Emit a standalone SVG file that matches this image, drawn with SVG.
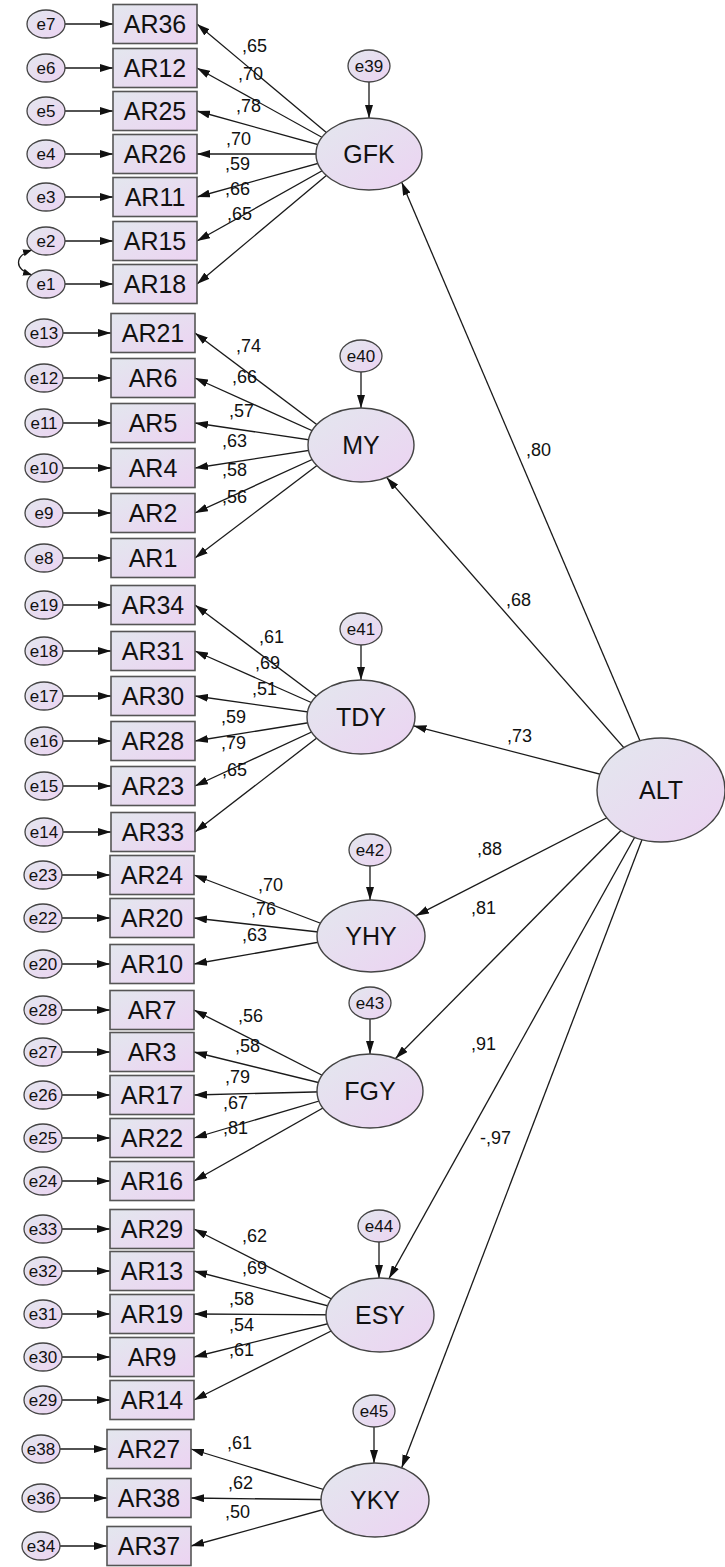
<svg xmlns="http://www.w3.org/2000/svg" width="725" height="1567" viewBox="0 0 725 1567">
<defs>
<linearGradient id="fill" x1="0" y1="0" x2="1" y2="1">
<stop offset="0" stop-color="#e3e7ee"/>
<stop offset="1" stop-color="#ecd3f2"/>
</linearGradient>
<marker id="ah" viewBox="0 0 13 8" markerWidth="13" markerHeight="8" refX="13" refY="4" orient="auto-start-reverse" markerUnits="userSpaceOnUse">
<path d="M0,0 L13,4 L0,8 z" fill="#111"/>
</marker>
<marker id="ahs" viewBox="0 0 9 7" markerWidth="9" markerHeight="7" refX="9" refY="3.5" orient="auto-start-reverse" markerUnits="userSpaceOnUse">
<path d="M0,0 L9,3.5 L0,7 z" fill="#111"/>
</marker>
</defs>
<style>
.obs{fill:url(#fill);stroke:#555;stroke-width:1.6}
.lat{fill:url(#fill);stroke:#444;stroke-width:1.4}
.err{fill:url(#fill);stroke:#444;stroke-width:1.3}
.t{font-family:"Liberation Sans",Arial,sans-serif;fill:#111;text-anchor:middle}
.big{font-size:25px}
.small{font-size:17px}
.lbl{font-family:"Liberation Sans",Arial,sans-serif;font-size:18px;fill:#111}
.c{fill:none;stroke:#1a1a1a;stroke-width:1.3;marker-end:url(#ah)}
</style>

<g id="connectors">
<!-- GFK loadings -->
<path class="c" d="M352,154 L197,24"/>
<path class="c" d="M352,154 L197,68"/>
<path class="c" d="M352,154 L197,111"/>
<path class="c" d="M352,154 L197,154"/>
<path class="c" d="M352,154 L197,197"/>
<path class="c" d="M352,154 L197,241"/>
<path class="c" d="M352,154 L197,284"/>
<!-- MY loadings -->
<path class="c" d="M344,445 L195,333"/>
<path class="c" d="M344,445 L195,378"/>
<path class="c" d="M344,445 L195,423"/>
<path class="c" d="M344,445 L195,468"/>
<path class="c" d="M344,445 L195,513"/>
<path class="c" d="M344,445 L195,558"/>
<!-- TDY loadings -->
<path class="c" d="M344,717 L195,605"/>
<path class="c" d="M344,717 L195,651"/>
<path class="c" d="M344,717 L195,696"/>
<path class="c" d="M344,717 L195,741"/>
<path class="c" d="M344,717 L195,786"/>
<path class="c" d="M344,717 L195,832"/>
<!-- YHY loadings -->
<path class="c" d="M354,936 L194,875"/>
<path class="c" d="M354,936 L194,918"/>
<path class="c" d="M354,936 L194,964"/>
<!-- FGY loadings -->
<path class="c" d="M353,1091 L194,1010"/>
<path class="c" d="M353,1091 L194,1052"/>
<path class="c" d="M353,1091 L194,1095"/>
<path class="c" d="M353,1091 L194,1138"/>
<path class="c" d="M353,1091 L194,1181"/>
<!-- ESY loadings -->
<path class="c" d="M363,1315 L194,1229"/>
<path class="c" d="M363,1315 L194,1271"/>
<path class="c" d="M363,1315 L194,1314"/>
<path class="c" d="M363,1315 L194,1357"/>
<path class="c" d="M363,1315 L194,1400"/>
<!-- YKY loadings -->
<path class="c" d="M358,1500 L191,1449"/>
<path class="c" d="M358,1500 L191,1498"/>
<path class="c" d="M358,1500 L191,1546"/>
<!-- ALT paths -->
<path class="c" d="M661,790 L401.7,182.2"/>
<path class="c" d="M661,790 L386.6,477.4"/>
<path class="c" d="M661,790 L413.5,725.8"/>
<path class="c" d="M661,790 L416,915.7"/>
<path class="c" d="M661,790 L395.5,1058.5"/>
<path class="c" d="M661,790 L389,1278.5"/>
<path class="c" d="M661,790 L401.7,1467.8"/>
<!-- latent error arrows -->
<path class="c" d="M369,82 L369,118"/>
<path class="c" d="M361,372 L361,408"/>
<path class="c" d="M361,645 L361,680"/>
<path class="c" d="M370,866 L370,900"/>
<path class="c" d="M370,1019 L370,1054"/>
<path class="c" d="M379,1242 L379,1278"/>
<path class="c" d="M374,1427 L374,1463"/>
<!-- error to indicator arrows -->
<path class="c" d="M65,24 L113,24"/>
<path class="c" d="M65,68 L113,68"/>
<path class="c" d="M65,111 L113,111"/>
<path class="c" d="M65,154 L113,154"/>
<path class="c" d="M65,197 L113,197"/>
<path class="c" d="M65,241 L113,241"/>
<path class="c" d="M65,284 L113,284"/>
<path class="c" d="M63,333 L111,333"/>
<path class="c" d="M63,378 L111,378"/>
<path class="c" d="M63,423 L111,423"/>
<path class="c" d="M63,468 L111,468"/>
<path class="c" d="M63,513 L111,513"/>
<path class="c" d="M63,558 L111,558"/>
<path class="c" d="M63,605 L111,605"/>
<path class="c" d="M63,651 L111,651"/>
<path class="c" d="M63,696 L111,696"/>
<path class="c" d="M63,741 L111,741"/>
<path class="c" d="M63,786 L111,786"/>
<path class="c" d="M63,832 L111,832"/>
<path class="c" d="M62,875 L110,875"/>
<path class="c" d="M62,918 L110,918"/>
<path class="c" d="M62,964 L110,964"/>
<path class="c" d="M62,1010 L110,1010"/>
<path class="c" d="M62,1052 L110,1052"/>
<path class="c" d="M62,1095 L110,1095"/>
<path class="c" d="M62,1138 L110,1138"/>
<path class="c" d="M62,1181 L110,1181"/>
<path class="c" d="M62,1229 L110,1229"/>
<path class="c" d="M62,1271 L110,1271"/>
<path class="c" d="M62,1314 L110,1314"/>
<path class="c" d="M62,1357 L110,1357"/>
<path class="c" d="M62,1400 L110,1400"/>
<path class="c" d="M60,1449 L107,1449"/>
<path class="c" d="M60,1498 L107,1498"/>
<path class="c" d="M60,1546 L107,1546"/>
<!-- covariance e1-e2 -->
<path d="M32,250 C14,256 14,269 32,275" fill="none" stroke="#1a1a1a" stroke-width="1.3" marker-start="url(#ahs)" marker-end="url(#ahs)"/>
</g>

<g id="labels">
<text class="lbl" x="242" y="52">,65</text>
<text class="lbl" x="238" y="80">,70</text>
<text class="lbl" x="236" y="112">,78</text>
<text class="lbl" x="226" y="145">,70</text>
<text class="lbl" x="225" y="170">,59</text>
<text class="lbl" x="225" y="195">,66</text>
<text class="lbl" x="227" y="220">,65</text>
<text class="lbl" x="236" y="352">,74</text>
<text class="lbl" x="232" y="383">,66</text>
<text class="lbl" x="229" y="417">,57</text>
<text class="lbl" x="222" y="447">,63</text>
<text class="lbl" x="222" y="476">,58</text>
<text class="lbl" x="222" y="503">,56</text>
<text class="lbl" x="259" y="643">,61</text>
<text class="lbl" x="255" y="669">,69</text>
<text class="lbl" x="252" y="695">,51</text>
<text class="lbl" x="221" y="723">,59</text>
<text class="lbl" x="221" y="749">,79</text>
<text class="lbl" x="222" y="776">,65</text>
<text class="lbl" x="258" y="891">,70</text>
<text class="lbl" x="251" y="915">,76</text>
<text class="lbl" x="242" y="941">,63</text>
<text class="lbl" x="238" y="1022">,56</text>
<text class="lbl" x="235" y="1052">,58</text>
<text class="lbl" x="225" y="1083">,79</text>
<text class="lbl" x="223" y="1109">,67</text>
<text class="lbl" x="223" y="1134">,81</text>
<text class="lbl" x="242" y="1242">,62</text>
<text class="lbl" x="242" y="1274">,69</text>
<text class="lbl" x="229" y="1305">,58</text>
<text class="lbl" x="229" y="1331">,54</text>
<text class="lbl" x="229" y="1356">,61</text>
<text class="lbl" x="227" y="1449">,61</text>
<text class="lbl" x="228" y="1489">,62</text>
<text class="lbl" x="225" y="1518">,50</text>
<text class="lbl" x="526" y="456">,80</text>
<text class="lbl" x="506" y="606">,68</text>
<text class="lbl" x="507" y="742">,73</text>
<text class="lbl" x="477" y="855">,88</text>
<text class="lbl" x="471" y="914">,81</text>
<text class="lbl" x="471" y="1050">,91</text>
<text class="lbl" x="480" y="1144">-,97</text>
</g>

<!-- latent variables -->
<g id="GFK"><ellipse class="lat" cx="369" cy="154" rx="53" ry="36"/><text class="t big" x="369" y="163">GFK</text></g>
<g id="MY"><ellipse class="lat" cx="361" cy="445" rx="53" ry="37"/><text class="t big" x="361" y="454">MY</text></g>
<g id="TDY"><ellipse class="lat" cx="361" cy="717" rx="54" ry="37"/><text class="t big" x="361" y="726">TDY</text></g>
<g id="YHY"><ellipse class="lat" cx="371" cy="936" rx="54" ry="36"/><text class="t big" x="371" y="945">YHY</text></g>
<g id="FGY"><ellipse class="lat" cx="370" cy="1091" rx="53" ry="37"/><text class="t big" x="370" y="1100">FGY</text></g>
<g id="ESY"><ellipse class="lat" cx="380" cy="1315" rx="54" ry="37"/><text class="t big" x="380" y="1324">ESY</text></g>
<g id="YKY"><ellipse class="lat" cx="375" cy="1500" rx="54" ry="37"/><text class="t big" x="375" y="1509">YKY</text></g>
<g id="ALT"><ellipse class="lat" cx="661" cy="790" rx="64" ry="52"/><text class="t big" x="661" y="799">ALT</text></g>

<!-- latent errors -->
<g id="e39"><ellipse class="err" cx="369" cy="66" rx="21" ry="16"/><text class="t small" x="369" y="72">e39</text></g>
<g id="e40"><ellipse class="err" cx="361" cy="356" rx="21" ry="16"/><text class="t small" x="361" y="362">e40</text></g>
<g id="e41"><ellipse class="err" cx="361" cy="629" rx="21" ry="16"/><text class="t small" x="361" y="635">e41</text></g>
<g id="e42"><ellipse class="err" cx="370" cy="850" rx="21" ry="16"/><text class="t small" x="370" y="856">e42</text></g>
<g id="e43"><ellipse class="err" cx="370" cy="1003" rx="21" ry="16"/><text class="t small" x="370" y="1009">e43</text></g>
<g id="e44"><ellipse class="err" cx="379" cy="1226" rx="21" ry="16"/><text class="t small" x="379" y="1232">e44</text></g>
<g id="e45"><ellipse class="err" cx="374" cy="1411" rx="21" ry="16"/><text class="t small" x="374" y="1417">e45</text></g>

<!-- GFK indicators -->
<g id="AR36"><rect class="obs" x="113" y="4.5" width="84" height="39"/><text class="t big" x="155" y="33">AR36</text></g>
<g id="AR12"><rect class="obs" x="113" y="48.5" width="84" height="39"/><text class="t big" x="155" y="77">AR12</text></g>
<g id="AR25"><rect class="obs" x="113" y="91.5" width="84" height="39"/><text class="t big" x="155" y="120">AR25</text></g>
<g id="AR26"><rect class="obs" x="113" y="134.5" width="84" height="39"/><text class="t big" x="155" y="163">AR26</text></g>
<g id="AR11"><rect class="obs" x="113" y="177.5" width="84" height="39"/><text class="t big" x="155" y="206">AR11</text></g>
<g id="AR15"><rect class="obs" x="113" y="221.5" width="84" height="39"/><text class="t big" x="155" y="250">AR15</text></g>
<g id="AR18"><rect class="obs" x="113" y="264.5" width="84" height="39"/><text class="t big" x="155" y="293">AR18</text></g>
<!-- MY indicators -->
<g id="AR21"><rect class="obs" x="111" y="313.5" width="84" height="39"/><text class="t big" x="153" y="342">AR21</text></g>
<g id="AR6"><rect class="obs" x="111" y="358.5" width="84" height="39"/><text class="t big" x="153" y="387">AR6</text></g>
<g id="AR5"><rect class="obs" x="111" y="403.5" width="84" height="39"/><text class="t big" x="153" y="432">AR5</text></g>
<g id="AR4"><rect class="obs" x="111" y="448.5" width="84" height="39"/><text class="t big" x="153" y="477">AR4</text></g>
<g id="AR2"><rect class="obs" x="111" y="493.5" width="84" height="39"/><text class="t big" x="153" y="522">AR2</text></g>
<g id="AR1"><rect class="obs" x="111" y="538.5" width="84" height="39"/><text class="t big" x="153" y="567">AR1</text></g>
<!-- TDY indicators -->
<g id="AR34"><rect class="obs" x="111" y="585.5" width="84" height="39"/><text class="t big" x="153" y="614">AR34</text></g>
<g id="AR31"><rect class="obs" x="111" y="631.5" width="84" height="39"/><text class="t big" x="153" y="660">AR31</text></g>
<g id="AR30"><rect class="obs" x="111" y="676.5" width="84" height="39"/><text class="t big" x="153" y="705">AR30</text></g>
<g id="AR28"><rect class="obs" x="111" y="721.5" width="84" height="39"/><text class="t big" x="153" y="750">AR28</text></g>
<g id="AR23"><rect class="obs" x="111" y="766.5" width="84" height="39"/><text class="t big" x="153" y="795">AR23</text></g>
<g id="AR33"><rect class="obs" x="111" y="812.5" width="84" height="39"/><text class="t big" x="153" y="841">AR33</text></g>
<!-- YHY indicators -->
<g id="AR24"><rect class="obs" x="110" y="855.5" width="84" height="39"/><text class="t big" x="152" y="884">AR24</text></g>
<g id="AR20"><rect class="obs" x="110" y="898.5" width="84" height="39"/><text class="t big" x="152" y="927">AR20</text></g>
<g id="AR10"><rect class="obs" x="110" y="944.5" width="84" height="39"/><text class="t big" x="152" y="973">AR10</text></g>
<!-- FGY indicators -->
<g id="AR7"><rect class="obs" x="110" y="990.5" width="84" height="39"/><text class="t big" x="152" y="1019">AR7</text></g>
<g id="AR3"><rect class="obs" x="110" y="1032.5" width="84" height="39"/><text class="t big" x="152" y="1061">AR3</text></g>
<g id="AR17"><rect class="obs" x="110" y="1075.5" width="84" height="39"/><text class="t big" x="152" y="1104">AR17</text></g>
<g id="AR22"><rect class="obs" x="110" y="1118.5" width="84" height="39"/><text class="t big" x="152" y="1147">AR22</text></g>
<g id="AR16"><rect class="obs" x="110" y="1161.5" width="84" height="39"/><text class="t big" x="152" y="1190">AR16</text></g>
<!-- ESY indicators -->
<g id="AR29"><rect class="obs" x="110" y="1209.5" width="84" height="39"/><text class="t big" x="152" y="1238">AR29</text></g>
<g id="AR13"><rect class="obs" x="110" y="1251.5" width="84" height="39"/><text class="t big" x="152" y="1280">AR13</text></g>
<g id="AR19"><rect class="obs" x="110" y="1294.5" width="84" height="39"/><text class="t big" x="152" y="1323">AR19</text></g>
<g id="AR9"><rect class="obs" x="110" y="1337.5" width="84" height="39"/><text class="t big" x="152" y="1366">AR9</text></g>
<g id="AR14"><rect class="obs" x="110" y="1380.5" width="84" height="39"/><text class="t big" x="152" y="1409">AR14</text></g>
<!-- YKY indicators -->
<g id="AR27"><rect class="obs" x="107" y="1429.5" width="84" height="39"/><text class="t big" x="149" y="1458">AR27</text></g>
<g id="AR38"><rect class="obs" x="107" y="1478.5" width="84" height="39"/><text class="t big" x="149" y="1507">AR38</text></g>
<g id="AR37"><rect class="obs" x="107" y="1526.5" width="84" height="39"/><text class="t big" x="149" y="1555">AR37</text></g>

<!-- indicator errors -->
<g id="e7"><ellipse class="err" cx="46" cy="24" rx="19" ry="14"/><text class="t small" x="46" y="30">e7</text></g>
<g id="e6"><ellipse class="err" cx="46" cy="68" rx="19" ry="14"/><text class="t small" x="46" y="74">e6</text></g>
<g id="e5"><ellipse class="err" cx="46" cy="111" rx="19" ry="14"/><text class="t small" x="46" y="117">e5</text></g>
<g id="e4"><ellipse class="err" cx="46" cy="154" rx="19" ry="14"/><text class="t small" x="46" y="160">e4</text></g>
<g id="e3"><ellipse class="err" cx="46" cy="197" rx="19" ry="14"/><text class="t small" x="46" y="203">e3</text></g>
<g id="e2"><ellipse class="err" cx="46" cy="241" rx="19" ry="14"/><text class="t small" x="46" y="247">e2</text></g>
<g id="e1"><ellipse class="err" cx="46" cy="284" rx="19" ry="14"/><text class="t small" x="46" y="290">e1</text></g>
<g id="e13"><ellipse class="err" cx="44" cy="333" rx="19" ry="14"/><text class="t small" x="44" y="339">e13</text></g>
<g id="e12"><ellipse class="err" cx="44" cy="378" rx="19" ry="14"/><text class="t small" x="44" y="384">e12</text></g>
<g id="e11"><ellipse class="err" cx="44" cy="423" rx="19" ry="14"/><text class="t small" x="44" y="429">e11</text></g>
<g id="e10"><ellipse class="err" cx="44" cy="468" rx="19" ry="14"/><text class="t small" x="44" y="474">e10</text></g>
<g id="e9"><ellipse class="err" cx="44" cy="513" rx="19" ry="14"/><text class="t small" x="44" y="519">e9</text></g>
<g id="e8"><ellipse class="err" cx="44" cy="558" rx="19" ry="14"/><text class="t small" x="44" y="564">e8</text></g>
<g id="e19"><ellipse class="err" cx="44" cy="605" rx="19" ry="14"/><text class="t small" x="44" y="611">e19</text></g>
<g id="e18"><ellipse class="err" cx="44" cy="651" rx="19" ry="14"/><text class="t small" x="44" y="657">e18</text></g>
<g id="e17"><ellipse class="err" cx="44" cy="696" rx="19" ry="14"/><text class="t small" x="44" y="702">e17</text></g>
<g id="e16"><ellipse class="err" cx="44" cy="741" rx="19" ry="14"/><text class="t small" x="44" y="747">e16</text></g>
<g id="e15"><ellipse class="err" cx="44" cy="786" rx="19" ry="14"/><text class="t small" x="44" y="792">e15</text></g>
<g id="e14"><ellipse class="err" cx="44" cy="832" rx="19" ry="14"/><text class="t small" x="44" y="838">e14</text></g>
<g id="e23"><ellipse class="err" cx="43" cy="875" rx="19" ry="14"/><text class="t small" x="43" y="881">e23</text></g>
<g id="e22"><ellipse class="err" cx="43" cy="918" rx="19" ry="14"/><text class="t small" x="43" y="924">e22</text></g>
<g id="e20"><ellipse class="err" cx="43" cy="964" rx="19" ry="14"/><text class="t small" x="43" y="970">e20</text></g>
<g id="e28"><ellipse class="err" cx="43" cy="1010" rx="19" ry="14"/><text class="t small" x="43" y="1016">e28</text></g>
<g id="e27"><ellipse class="err" cx="43" cy="1052" rx="19" ry="14"/><text class="t small" x="43" y="1058">e27</text></g>
<g id="e26"><ellipse class="err" cx="43" cy="1095" rx="19" ry="14"/><text class="t small" x="43" y="1101">e26</text></g>
<g id="e25"><ellipse class="err" cx="43" cy="1138" rx="19" ry="14"/><text class="t small" x="43" y="1144">e25</text></g>
<g id="e24"><ellipse class="err" cx="43" cy="1181" rx="19" ry="14"/><text class="t small" x="43" y="1187">e24</text></g>
<g id="e33"><ellipse class="err" cx="43" cy="1229" rx="19" ry="14"/><text class="t small" x="43" y="1235">e33</text></g>
<g id="e32"><ellipse class="err" cx="43" cy="1271" rx="19" ry="14"/><text class="t small" x="43" y="1277">e32</text></g>
<g id="e31"><ellipse class="err" cx="43" cy="1314" rx="19" ry="14"/><text class="t small" x="43" y="1320">e31</text></g>
<g id="e30"><ellipse class="err" cx="43" cy="1357" rx="19" ry="14"/><text class="t small" x="43" y="1363">e30</text></g>
<g id="e29"><ellipse class="err" cx="43" cy="1400" rx="19" ry="14"/><text class="t small" x="43" y="1406">e29</text></g>
<g id="e38"><ellipse class="err" cx="41" cy="1449" rx="19" ry="14"/><text class="t small" x="41" y="1455">e38</text></g>
<g id="e36"><ellipse class="err" cx="41" cy="1498" rx="19" ry="14"/><text class="t small" x="41" y="1504">e36</text></g>
<g id="e34"><ellipse class="err" cx="41" cy="1546" rx="19" ry="14"/><text class="t small" x="41" y="1552">e34</text></g>
</svg>
